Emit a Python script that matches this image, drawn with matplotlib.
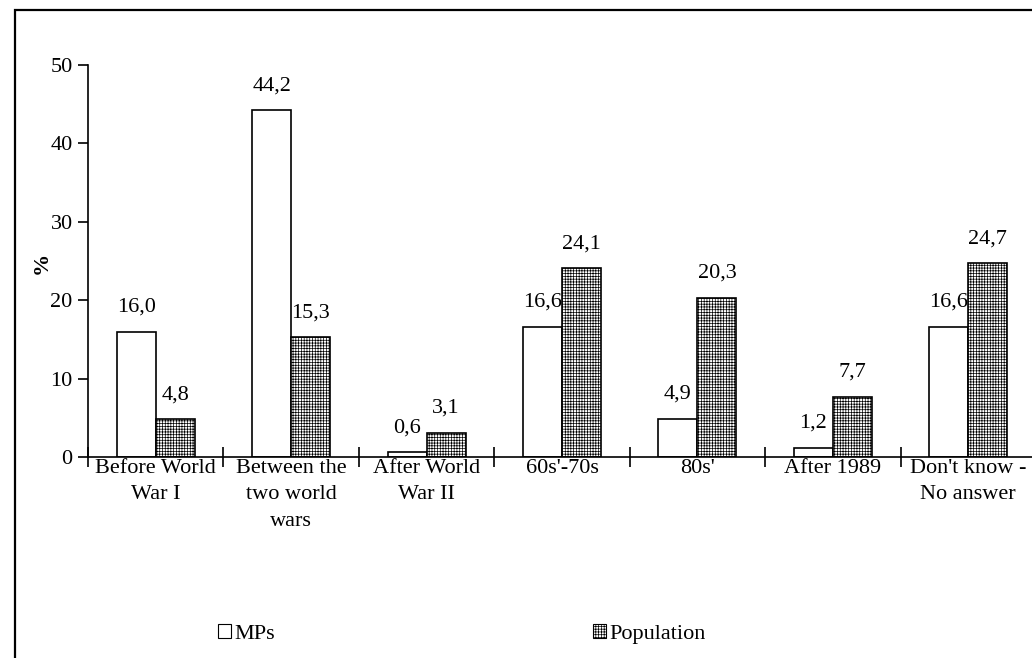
import matplotlib.pyplot as plt
import numpy as np
from matplotlib.patches import Rectangle, Patch

categories = ['Before World\nWar I', 'Between the\ntwo world\nwars', 'After World\nWar II',
              "60s'-70s", "80s'", 'After 1989', "Don't know -\nNo answer"]
mps = [16.0, 44.2, 0.6, 16.6, 4.9, 1.2, 16.6]
population = [4.8, 15.3, 3.1, 24.1, 20.3, 7.7, 24.7]

plt.rcParams['font.family'] = ['Liberation Serif', 'DejaVu Serif']
plt.rcParams['hatch.linewidth'] = 0.5
plt.rcParams['hatch.color'] = '#555555'
fs = 16

fig = plt.figure(figsize=(10.32, 6.58), dpi=100)
ax = fig.add_axes([88 / 1032, 1 - 457 / 658, 948 / 1032, (457 - 65) / 658])

x = np.arange(len(categories))
w = 0.288
b1 = ax.bar(x - w / 2, mps, w, color='white', edgecolor='black', linewidth=1.2)
b2 = ax.bar(x + w / 2, population, w, color='white', edgecolor='black', linewidth=1.2,
            hatch='++++++')

def fmt(v):
    return ('%.1f' % v).replace('.', ',')

for rect, v in zip(list(b1) + list(b2), mps + population):
    ax.text(rect.get_x() + rect.get_width() / 2, v + 1.9, fmt(v),
            ha='center', va='bottom', fontsize=fs)

ax.set_xlim(-0.5, len(categories) - 0.5)
ax.set_ylim(0, 50)
ax.set_yticks([0, 10, 20, 30, 40, 50])
ax.tick_params(axis='y', direction='out', length=7, width=1.2, labelsize=fs, pad=4)

# category labels centered, ticks on the boundaries
ax.set_xticks(np.arange(len(categories) + 1) - 0.5)
ax.set_xticklabels([])
ax.tick_params(axis='x', direction='inout', length=15, width=1.2)
for i, lab in enumerate(categories):
    ax.text(i, -0.2, lab, ha='center', va='top', fontsize=fs, linespacing=1.56)

for s in ['top', 'right']:
    ax.spines[s].set_visible(False)
for s in ['left', 'bottom']:
    ax.spines[s].set_linewidth(1.2)

ax.set_ylabel('%', fontsize=fs, fontweight='bold')
ax.yaxis.set_label_coords((52 - 88) / 948, 0.495)

handles = [Patch(facecolor='white', edgecolor='black', linewidth=0.8),
           Patch(facecolor='white', edgecolor='black', linewidth=0.8, hatch='++++++')]
fig.legend(handles, ['MPs', 'Population'], loc='center left',
           bbox_to_anchor=(198 / 1032, 1 - 634 / 658), ncol=2, frameon=False,
           fontsize=fs, handlelength=0.6, handleheight=0.6, handletextpad=0.15,
           columnspacing=14.3)

# outer frame
fig.patches.append(Rectangle((15 / 1032, -0.05), 1.05, 0.05 + 1 - 10 / 658,
                             transform=fig.transFigure, fill=False,
                             edgecolor='black', linewidth=1.6))

fig.savefig('out.png', dpi=100)
